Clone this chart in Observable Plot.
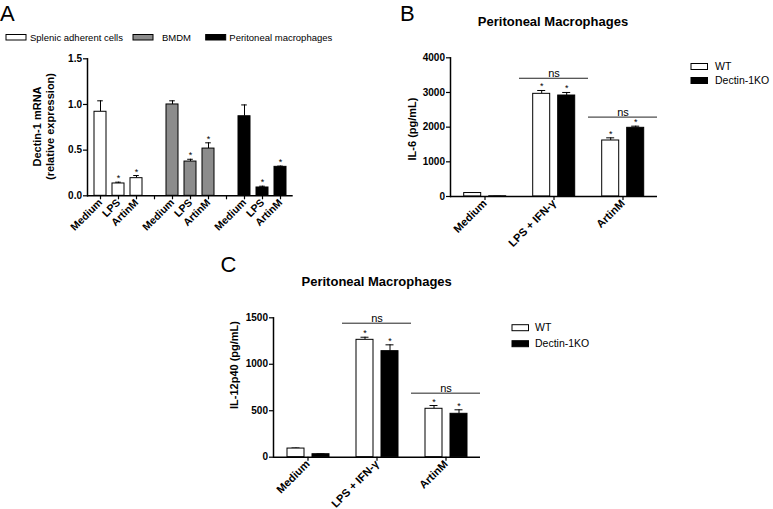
<!DOCTYPE html>
<html><head><meta charset="utf-8">
<script src="https://cdn.jsdelivr.net/npm/d3@7"></script>
<script src="https://cdn.jsdelivr.net/npm/@observablehq/plot@0.6"></script>
<style>
body{margin:0;background:#fff;}
#root{position:relative;width:773px;height:509px;overflow:hidden;background:#fff;}
</style></head><body><div id="root"></div>
<script>
const FONT = '"Liberation Sans", Arial, Helvetica, sans-serif';

// ---------- Panel A data ----------
const cellTypesA = ["Splenic adherent cells", "BMDM", "Peritoneal macrophages"];
const treatmentsA = ["Medium", "LPS", "ArtinM"];
const meanA = [[0.92, 0.135, 0.193], [1.00, 0.375, 0.517], [0.871, 0.091, 0.317]];
const semA  = [[0.12, 0.014, 0.029], [0.04, 0.025, 0.063], [0.124, 0.014, 0.008]];
const starA = [[false, true, true], [false, true, true], [false, true, true]];
const fillA = ["#ffffff", "#8c8c8c", "#000000"];
const yTicksA = [0, 0.5, 1.0, 1.5];
const yTitleA = ["Dectin-1 mRNA", "(relative expression)"];

// ---------- Panels B & C data ----------
const treatmentsBC = ["Medium", "LPS + IFN-γ", "ArtinM"];
const genotypes = ["WT", "Dectin-1KO"];
const genotypeFill = ["#ffffff", "#000000"];
const panelTitle = "Peritoneal Macrophages";

const il6WT = [100, 2961, 1615], il6WTsem = [6, 96, 77];
const il6KO = [6, 2912, 1981],   il6KOsem = [0, 88, 47];
const il6Star = [[false, false], [true, true], [true, true]];
const il6NS = [null, 3410, 2290];
const yTicksB = [0, 1000, 2000, 3000, 4000];
const yTitleB = "IL-6 (pg/mL)";

const il12WT = [93, 1263, 521], il12WTsem = [6, 28, 35];
const il12KO = [32, 1141, 467], il12KOsem = [3, 68, 43];
const il12Star = [[false, false], [true, true], [true, true]];
const il12NS = [null, 1442, 689];
const yTicksC = [0, 500, 1000, 1500];
const yTitleC = "IL-12p40 (pg/mL)";

const root = document.getElementById("root");
function place(node, left, top) {
  node.style.position = "absolute";
  node.style.left = left + "px";
  node.style.top = top + "px";
  root.appendChild(node);
}

// ---------- Panel A ----------
const rowsA = [];
const domainA = [];
const labelA = new Map();
cellTypesA.forEach((c, i) => {
  if (i > 0) domainA.push("gap" + i);
  treatmentsA.forEach((t, j) => {
    const key = c + "|" + t;
    domainA.push(key);
    labelA.set(key, t);
    rowsA.push({key, cell: c, value: meanA[i][j], upper: meanA[i][j] + semA[i][j], star: starA[i][j]});
  });
});

const plotA = Plot.plot({
  width: 300, height: 200,
  marginLeft: 87, marginRight: 7.3, marginTop: 18.3, marginBottom: 44.7,
  style: {fontFamily: FONT, background: "transparent", color: "#000", overflow: "visible"},
  x: {domain: domainA, paddingInner: 0.324, paddingOuter: 0.222, label: null},
  y: {domain: [0, 1.5], label: null},
  color: {domain: cellTypesA, range: fillA},
  marks: [
    Plot.ruleX(rowsA, {x: "key", y1: "value", y2: "upper", stroke: "#000", strokeWidth: 1}),
    Plot.tickY(rowsA, {x: "key", y: "upper", insetLeft: 3.2, insetRight: 3.2, stroke: "#000", strokeWidth: 1}),
    Plot.barY(rowsA, {x: "key", y: "value", fill: "cell", stroke: "#000", strokeWidth: 1}),
    Plot.text(rowsA.filter(d => d.star), {x: "key", y: "upper", text: () => "*", lineAnchor: "bottom", dy: -1, fontSize: 9, fill: "#000"}),
    Plot.ruleY([0], {stroke: "#000", strokeWidth: 1.5}),
    Plot.frame({anchor: "left", stroke: "#000", strokeWidth: 1.5}),
    Plot.axisY({ticks: yTicksA, tickFormat: d3.format(".1f"), tickSize: 4, tickPadding: 1.5, fontWeight: "bold", fontSize: 10, label: null, strokeWidth: 1.2}),
    Plot.axisX({tickFormat: k => labelA.get(k) ?? "", tickRotate: -45, tickSize: 4, tickPadding: 1, fontWeight: "bold", fontSize: 10.5, label: null, strokeWidth: 1.2})
  ]
});
place(plotA, 0, 40);

// ---------- Panels B & C (grouped bars, faceted by treatment) ----------
function groupedPlot(wt, wtSem, ko, koSem, stars, ns, yMax, yTicks, dims) {
  const rows = [];
  treatmentsBC.forEach((t, i) => {
    rows.push({t, g: genotypes[0], v: wt[i], up: wt[i] + wtSem[i], star: stars[i][0]});
    rows.push({t, g: genotypes[1], v: ko[i], up: ko[i] + koSem[i], star: stars[i][1]});
  });
  const nsRows = treatmentsBC.map((t, i) => ({t, level: ns[i]})).filter(d => d.level != null);
  const {po, ...size} = dims;
  return Plot.plot({
    ...size,
    style: {fontFamily: FONT, background: "transparent", color: "#000", overflow: "visible"},
    fx: {domain: treatmentsBC, padding: 0, label: null},
    x: {domain: genotypes, paddingInner: 0.327, paddingOuter: po, axis: null},
    y: {domain: [0, yMax], label: null},
    color: {domain: genotypes, range: genotypeFill},
    marks: [
      Plot.ruleX(rows, {fx: "t", x: "g", y1: "v", y2: "up", stroke: "#000", strokeWidth: 1}),
      Plot.tickY(rows, {fx: "t", x: "g", y: "up", insetLeft: 4.5, insetRight: 4.5, stroke: "#000", strokeWidth: 1}),
      Plot.barY(rows, {fx: "t", x: "g", y: "v", fill: "g", stroke: "#000", strokeWidth: 1}),
      Plot.text(rows.filter(d => d.star), {fx: "t", x: "g", y: "up", text: () => "*", lineAnchor: "bottom", dy: -1, fontSize: 9, fill: "#000"}),
      Plot.ruleY(nsRows, {fx: "t", y: "level", stroke: "#222", strokeWidth: 1}),
      Plot.text(nsRows, {fx: "t", y: "level", text: () => "ns", lineAnchor: "bottom", dy: -1.5, fontSize: 11, fill: "#000"}),
      Plot.ruleY([0], {stroke: "#000", strokeWidth: 1.5}),
      Plot.frame({anchor: "left", facet: "super", stroke: "#000", strokeWidth: 1.5}),
      Plot.axisY({ticks: yTicks, tickFormat: d3.format("d"), tickSize: 4, tickPadding: 1.5, fontWeight: "bold", fontSize: 10, label: null, strokeWidth: 1.2}),
      Plot.axisFx({anchor: "bottom", tickRotate: -45, tickSize: 4, tickPadding: 1, fontWeight: "bold", fontSize: 11, label: null, strokeWidth: 1.2})
    ]
  });
}

const plotB = groupedPlot(il6WT, il6WTsem, il6KO, il6KOsem, il6Star, il6NS, 4000, yTicksB,
  {width: 290, height: 220, marginLeft: 69.3, marginRight: 11.7, marginTop: 17.3, marginBottom: 64, po: 0.503});
place(plotB, 380, 40);

const plotC = groupedPlot(il12WT, il12WTsem, il12KO, il12KOsem, il12Star, il12NS, 1500, yTicksC,
  {width: 310, height: 209, marginLeft: 92, marginRight: 10, marginTop: 17.3, marginBottom: 52.3, po: 0.497});
place(plotC, 180, 300);

// ---------- Overlay text: panel letters, titles, axis titles, legends ----------
const svg = d3.select(root).append("svg")
  .attr("width", 773).attr("height", 509)
  .style("position", "absolute").style("left", "0px").style("top", "0px")
  .style("font-family", FONT).style("pointer-events", "none");

const letters = [["A", 0, 20.5], ["B", 400, 20.5], ["C", 220.5, 272]];
letters.forEach(([t, x, y]) => svg.append("text").attr("x", x).attr("y", y).attr("font-size", 22).text(t));

[[553, 26], [376.7, 286]].forEach(([x, y]) =>
  svg.append("text").attr("x", x).attr("y", y).attr("text-anchor", "middle")
    .attr("font-size", 13).attr("font-weight", "bold").text(panelTitle));

function vtitle(text, x, y) {
  svg.append("text").attr("transform", `translate(${x},${y}) rotate(-90)`)
    .attr("text-anchor", "middle").attr("font-size", 11).attr("font-weight", "bold").text(text);
}
vtitle(yTitleA[0], 41, 126.5);
vtitle(yTitleA[1], 53.8, 126.5);
vtitle(yTitleB, 416, 129);
vtitle(yTitleC, 238, 365);

// legend A
const boxXA = [6, 133, 205.7], textXA = [30, 162, 229.3];
cellTypesA.forEach((c, i) => {
  svg.append("rect").attr("x", boxXA[i]).attr("y", 34.5).attr("width", 20).attr("height", 5.5)
    .attr("fill", fillA[i]).attr("stroke", "#000").attr("stroke-width", 1);
  svg.append("text").attr("x", textXA[i]).attr("y", 40.5).attr("font-size", 9.5).text(c);
});

function genoLegend(bx, tx, ys) {
  genotypes.forEach((g, i) => {
    svg.append("rect").attr("x", bx).attr("y", ys[i] - 6).attr("width", 16.5).attr("height", 6)
      .attr("fill", genotypeFill[i]).attr("stroke", "#000").attr("stroke-width", 1);
    svg.append("text").attr("x", tx).attr("y", ys[i]).attr("font-size", 10.5).text(g);
  });
}
genoLegend(691, 715, [69.5, 83.5]);
genoLegend(512, 535, [330.7, 346.7]);
</script>
</body></html>
